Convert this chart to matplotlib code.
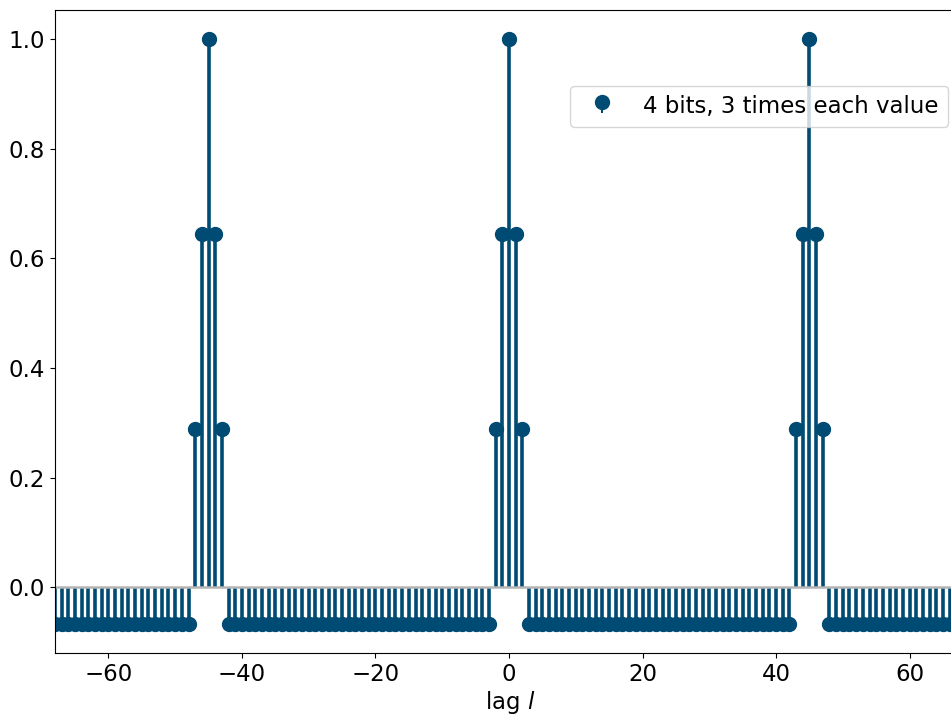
import numpy as np
import matplotlib
matplotlib.use("Agg")
import matplotlib.pyplot as plt
from matplotlib.legend_handler import HandlerStem

# Autocorrelation of a 4-bit sequence with every value repeated 3 times
lags = np.arange(-68, 69)
floor_value = -0.0667
peak_lags = [-47, -46, -45, -44, -43, -2, -1, 0, 1, 2, 43, 44, 45, 46, 47]
peak_values = [0.289, 0.644, 1.0, 0.644, 0.289,
               0.289, 0.644, 1.0, 0.644, 0.289,
               0.289, 0.644, 1.0, 0.644, 0.289]

values = np.full(len(lags), floor_value)
for lag, v in zip(peak_lags, peak_values):
    values[lags == lag] = v

color = "#004b73"
plt.rcParams["font.size"] = 16.5


class HandlerStemNoBase(HandlerStem):
    # legend entry without the grey baseline
    def create_artists(self, *args, **kwargs):
        arts = super().create_artists(*args, **kwargs)
        arts[-2].set_visible(False)
        return arts


fig = plt.figure(figsize=(9.51, 7.14), dpi=100)
ax = fig.add_axes([55 / 951, 1 - 653 / 714, 910 / 951, 643 / 714])

markerline, stemlines, baseline = ax.stem(lags, values, label="4 bits, 3 times each value")
markerline.set_color(color)
markerline.set_markersize(10)
stemlines.set_color(color)
stemlines.set_linewidth(2.6)
baseline.set_color("#b5b5b5")
baseline.set_linewidth(1.8)

ax.set_xlim(-68, 68.3)
ax.set_xticks([-60, -40, -20, 0, 20, 40, 60])
ax.set_yticks([0.0, 0.2, 0.4, 0.6, 0.8, 1.0])
ax.set_xlabel("lag $l$", labelpad=2)

from matplotlib.container import StemContainer
ax.legend(loc="upper right", bbox_to_anchor=(0.997, 0.88), bbox_transform=fig.transFigure,
          borderaxespad=0, handler_map={StemContainer: HandlerStemNoBase()})

fig.savefig("out.png", dpi=100)
